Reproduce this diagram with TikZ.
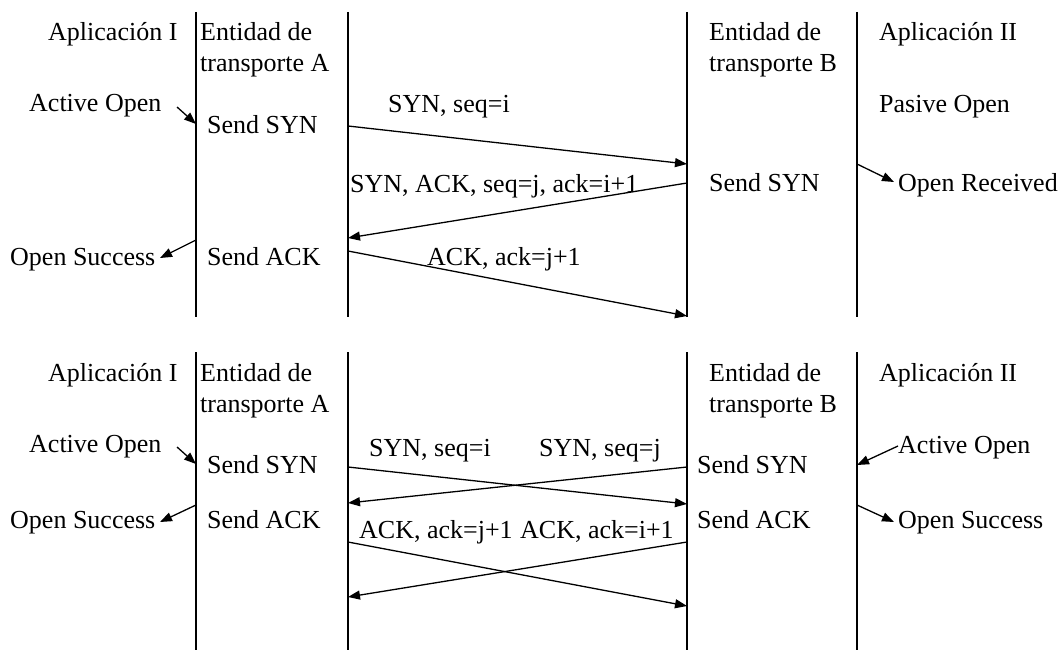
\documentclass[tikz,border=0pt]{standalone}
\usepackage{fontspec}
\setmainfont{Liberation Serif}
\usetikzlibrary{arrows.meta}
\begin{document}
\begin{tikzpicture}[x=1pt,y=-1pt,
  lifeline/.style={line width=2pt},
  msg/.style={line width=1.3pt,-{Triangle[length=12pt,width=9pt]}},
  lbl/.style={anchor=base west,inner sep=0pt,font=\fontsize{26}{30}\selectfont}]
\useasboundingbox (0,0) rectangle (1064,650);

% ---------- upper panel: passive open ----------
\coordinate (u1a) at (196,12);  \coordinate (u1b) at (196,317);
\coordinate (u2a) at (348,12);  \coordinate (u2b) at (348,317);
\coordinate (u3a) at (687,12);  \coordinate (u3b) at (687,317);
\coordinate (u4a) at (857,12);  \coordinate (u4b) at (857,317);
\foreach \i in {1,2,3,4} \draw[lifeline] (u\i a) -- (u\i b);

\node[lbl] (uApp1) at (48,41)  {Aplicación I};
\node[lbl] (uEntA) at (200,41) {Entidad de};
\node[lbl] (uTrA)  at (200,72) {transporte A};
\node[lbl] (uEntB) at (709,41) {Entidad de};
\node[lbl] (uTrB)  at (709,72) {transporte B};
\node[lbl] (uApp2) at (879,41) {Aplicación II};
\node[lbl] (uAct)  at (29,112)  {Active Open};
\node[lbl] (uSynA) at (207,133) {Send SYN};
\node[lbl] (uM1)   at (388,113) {SYN, seq=i};
\node[lbl] (uPas)  at (879,113) {Pasive Open};
\node[lbl] (uM2)   at (350,192) {SYN, ACK, seq=j, ack=i+1};
\node[lbl] (uSynB) at (709,191) {Send SYN};
\node[lbl] (uRecv) at (898,191) {Open Received};
\node[lbl] (uSucc) at (10,265)  {Open Success};
\node[lbl] (uAckA) at (207,265) {Send ACK};
\node[lbl] (uM3)   at (427,265) {ACK, ack=j+1};

\coordinate (uActS) at (177,107); \coordinate (uActE) at (196,124);
\coordinate (uM1s) at (348,126);  \coordinate (uM1e) at (687,164);
\coordinate (uM2s) at (687,183);  \coordinate (uM2e) at (348,238);
\coordinate (uM3s) at (348,251);  \coordinate (uM3e) at (687,316);
\coordinate (uRcS) at (857,164);  \coordinate (uRcE) at (894,182);
\coordinate (uScS) at (196,240);  \coordinate (uScE) at (160,258);

\draw[msg] (uActS) -- (uActE);
\draw[msg] (uM1s) -- (uM1e);
\draw[msg] (uM2s) -- (uM2e);
\draw[msg] (uM3s) -- (uM3e);
\draw[msg] (uRcS) -- (uRcE);
\draw[msg] (uScS) -- (uScE);

% ---------- lower panel: simultaneous open ----------
\coordinate (l1a) at (196,352);  \coordinate (l1b) at (196,650);
\coordinate (l2a) at (348,352);  \coordinate (l2b) at (348,650);
\coordinate (l3a) at (687,352);  \coordinate (l3b) at (687,650);
\coordinate (l4a) at (857,352);  \coordinate (l4b) at (857,650);
\foreach \i in {1,2,3,4} \draw[lifeline] (l\i a) -- (l\i b);

\node[lbl] (lApp1) at (48,381)  {Aplicación I};
\node[lbl] (lEntA) at (200,381) {Entidad de};
\node[lbl] (lTrA)  at (200,412) {transporte A};
\node[lbl] (lEntB) at (709,381) {Entidad de};
\node[lbl] (lTrB)  at (709,412) {transporte B};
\node[lbl] (lApp2) at (879,381) {Aplicación II};
\node[lbl] (lAct)  at (29,452)  {Active Open};
\node[lbl] (lSynA) at (207,473) {Send SYN};
\node[lbl] (lSucc) at (10,528)  {Open Success};
\node[lbl] (lAckA) at (207,528) {Send ACK};
\node[lbl] (lM1)   at (369,456) {SYN, seq=i};
\node[lbl] (lM2)   at (539,456) {SYN, seq=j};
\node[lbl] (lM3)   at (359,538) {ACK, ack=j+1};
\node[lbl] (lM4)   at (520,538) {ACK, ack=i+1};
\node[lbl] (lSynB) at (697,473) {Send SYN};
\node[lbl] (lAckB) at (697,528) {Send ACK};
\node[lbl] (lActB) at (898,453) {Active Open};
\node[lbl] (lSucB) at (898,528) {Open Success};

\coordinate (lActS) at (177,447); \coordinate (lActE) at (196,464);
\coordinate (lScS)  at (196,505); \coordinate (lScE)  at (160,522);
\coordinate (lM1s) at (348,467);  \coordinate (lM1e) at (687,504);
\coordinate (lM2s) at (687,467);  \coordinate (lM2e) at (348,503);
\coordinate (lM3s) at (348,542);  \coordinate (lM3e) at (687,606);
\coordinate (lM4s) at (687,542);  \coordinate (lM4e) at (348,597);
\coordinate (lAbS) at (898,446);  \coordinate (lAbE) at (857,465);
\coordinate (lSbS) at (857,505);  \coordinate (lSbE) at (894,522);

\draw[msg] (lActS) -- (lActE);
\draw[msg] (lScS) -- (lScE);
\draw[msg] (lM1s) -- (lM1e);
\draw[msg] (lM2s) -- (lM2e);
\draw[msg] (lM3s) -- (lM3e);
\draw[msg] (lM4s) -- (lM4e);
\draw[msg] (lAbS) -- (lAbE);
\draw[msg] (lSbS) -- (lSbE);
\end{tikzpicture}
\end{document}
